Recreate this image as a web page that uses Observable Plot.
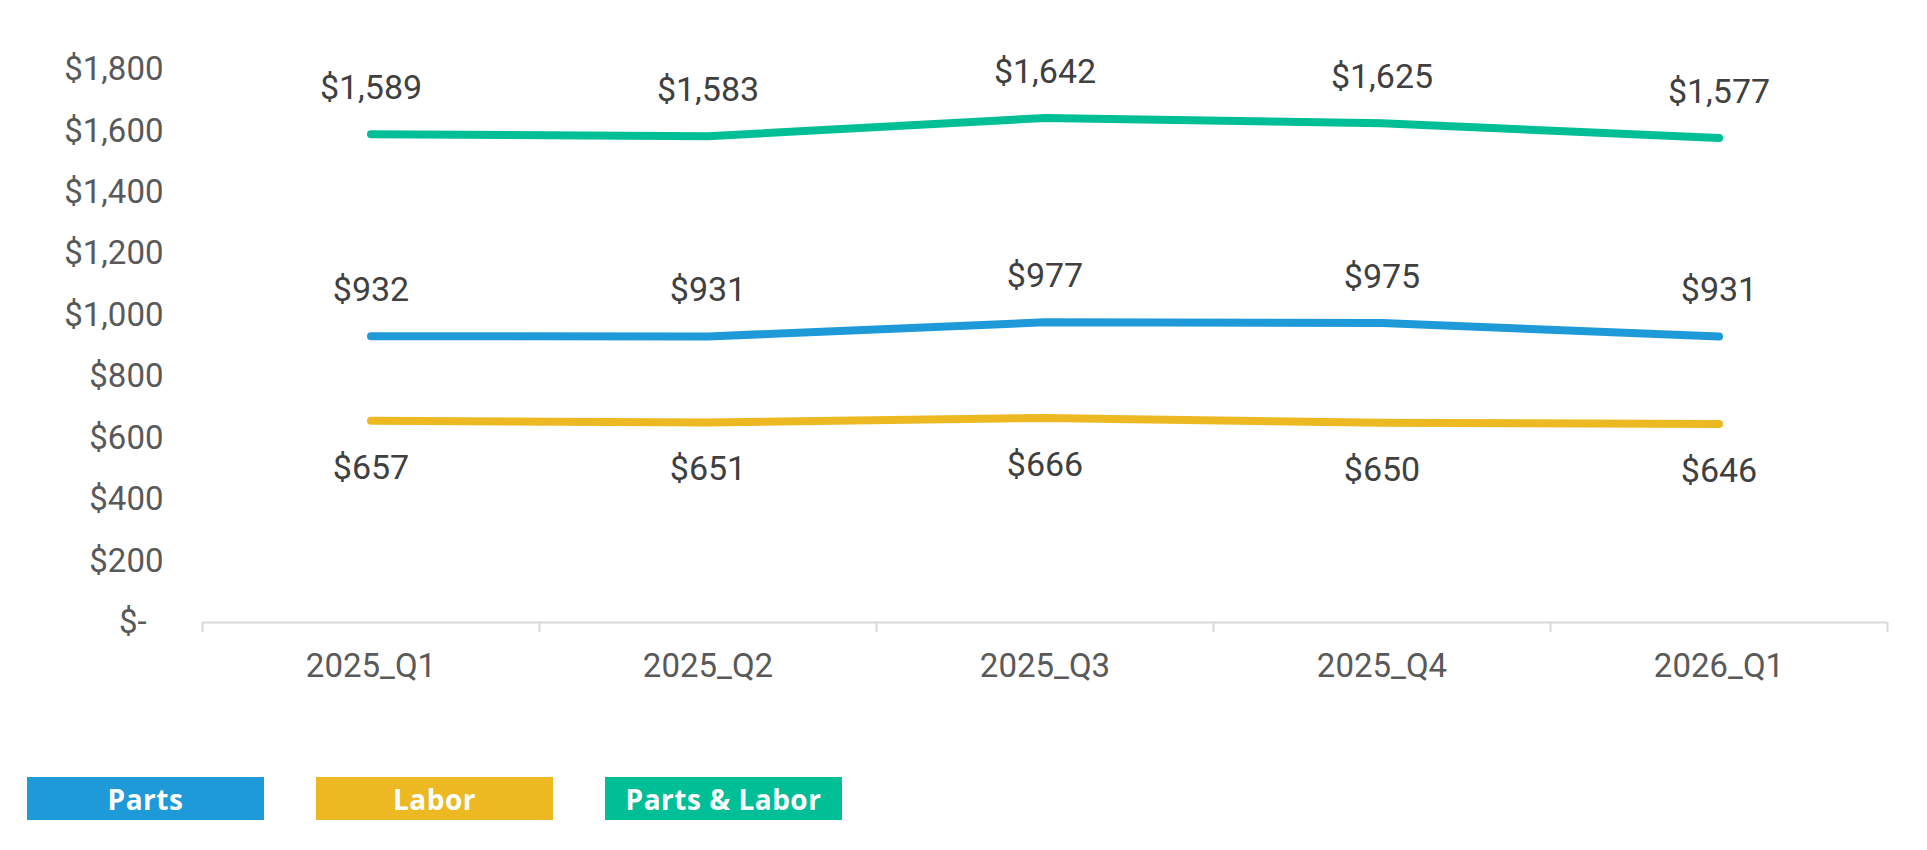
<!DOCTYPE html>
<html>
<head>
<meta charset="utf-8">
<script src="https://cdn.jsdelivr.net/npm/d3@7"></script>
<script src="https://cdn.jsdelivr.net/npm/@observablehq/plot@0.6"></script>
<style>
  html, body { margin: 0; padding: 0; background: #ffffff; }
  #chart svg { display: block; }
  #legend { position: relative; height: 150px; font-family: "Open Sans", sans-serif; }
  .lg { position: absolute; top: 77px; width: 237px; height: 43px; color: #fff; font-weight: 700;
        font-size: 28px; display: flex; align-items: center; justify-content: center; letter-spacing: 0.5px; }
</style>
</head>
<body>
<div id="chart"></div>
<div id="legend"></div>
<script>
const categories = ["2025_Q1", "2025_Q2", "2025_Q3", "2025_Q4", "2026_Q1"];
const parts = [932, 931, 977, 975, 931];
const labor = [657, 651, 666, 650, 646];
const partsLabor = [1589, 1583, 1642, 1625, 1577];
const seriesNames = ["Parts", "Labor", "Parts & Labor"];
const seriesColors = ["#1f9ad9", "#edb923", "#00bf96"];
const yTicks = [0, 200, 400, 600, 800, 1000, 1200, 1400, 1600, 1800];

const seriesValues = [parts, labor, partsLabor];
const rows = [];
seriesValues.forEach((vals, s) => {
  vals.forEach((v, i) => rows.push({series: seriesNames[s], pos: i + 0.5, value: v}));
});
const labelOffsets = {"Parts": -46, "Labor": 47, "Parts & Labor": -46};

const fmt = d3.format(",");
const chart = Plot.plot({
  width: 1927,
  height: 700,
  marginTop: 69,
  marginBottom: 78,
  marginLeft: 202,
  marginRight: 40,
  style: {fontFamily: "Roboto, sans-serif", color: "#595959", background: "#ffffff"},
  x: {type: "linear", domain: [0, categories.length], label: null},
  y: {domain: [0, 1800], label: null},
  color: {domain: seriesNames, range: seriesColors},
  marks: [
    Plot.ruleY([0], {stroke: "#d9d9d9", strokeWidth: 2}),
    Plot.axisX({ticks: d3.range(categories.length + 1), tickFormat: () => "", tickSize: 10,
                stroke: "#d9d9d9", strokeWidth: 2, strokeOpacity: 1, label: null}),
    Plot.axisX({ticks: categories.map((c, i) => i + 0.5), tickFormat: v => categories[Math.floor(v)],
                tickSize: 0, tickPadding: 31, fontSize: 33, fill: "#595959", label: null}),
    Plot.axisY({ticks: yTicks, tickFormat: v => v === 0 ? "$-\u2002" : "$" + fmt(v),
                tickSize: 0, tickPadding: 39, fontSize: 33, fill: "#595959", label: null}),
    ...seriesNames.map(name => Plot.line(rows.filter(r => r.series === name), {
      x: "pos", y: "value", stroke: "series", strokeWidth: 8, strokeLinecap: "round", strokeLinejoin: "round"
    })),
    ...seriesNames.map(name => Plot.text(rows.filter(r => r.series === name), {
      x: "pos", y: "value", text: d => "$" + fmt(d.value), dy: labelOffsets[name],
      fontSize: 34, fill: "#404040"
    }))
  ]
});
document.getElementById("chart").appendChild(chart);

const legend = document.getElementById("legend");
seriesNames.forEach((name, i) => {
  const el = document.createElement("div");
  el.className = "lg";
  el.style.left = (27 + i * 289) + "px";
  el.style.background = seriesColors[i];
  el.textContent = name;
  legend.appendChild(el);
});
</script>
</body>
</html>
